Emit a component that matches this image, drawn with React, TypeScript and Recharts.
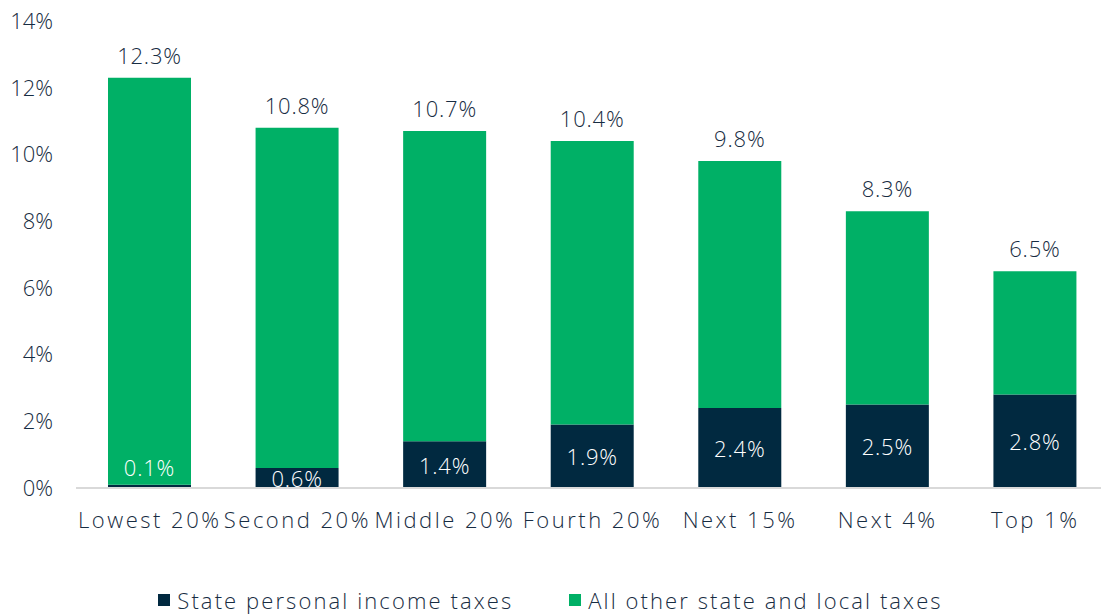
import React from 'react';
import { BarChart, Bar, XAxis, YAxis, Legend, LabelList } from 'recharts';

const GROUPS = ['Lowest 20%', 'Second 20%', 'Middle 20%', 'Fourth 20%', 'Next 15%', 'Next 4%', 'Top 1%'];
const INCOME_TAX = [0.1, 0.6, 1.4, 1.9, 2.4, 2.5, 2.8];
const OTHER_TAX = [12.2, 10.2, 9.3, 8.5, 7.4, 5.8, 3.7];
const TOTALS = [12.3, 10.8, 10.7, 10.4, 9.8, 8.3, 6.5];
const Y_TICKS = [0, 2, 4, 6, 8, 10, 12, 14];
const SERIES_ORDER = ['State personal income taxes', 'All other state and local taxes'];

const NAVY = '#012940';
const GREEN = '#00b066';
const TEXT = '#172c42';
const FONT = '"Open Sans", sans-serif';
const WEIGHT = 300;

const data = GROUPS.map((g, i) => ({
  group: g,
  income: INCOME_TAX[i],
  other: OTHER_TAX[i],
  total: TOTALS[i],
}));

function IncomeLabel(props: any) {
  const { x, y, width, height, value } = props;
  // tiny segments get their label lifted above the bar, like the original
  const cy = height < 10 ? y - 18 : y + height / 2;
  return (
    <text
      x={x + width / 2}
      y={cy}
      textAnchor="middle"
      dominantBaseline="central"
      fill="#ffffff"
      fontSize={22}
      fontWeight={WEIGHT}
      fontFamily={FONT}
      letterSpacing={0.8}
    >
      {value.toFixed(1)}%
    </text>
  );
}

function TotalLabel(props: any) {
  const { x, y, width, index } = props;
  return (
    <text
      x={x + width / 2}
      y={y - 14}
      textAnchor="middle"
      fill={TEXT}
      fontSize={22}
      fontWeight={WEIGHT}
      fontFamily={FONT}
      letterSpacing={0.8}
    >
      {TOTALS[index].toFixed(1)}%
    </text>
  );
}

function LegendContent(props: any) {
  const items = [...(props.payload || [])].sort(
    (a: any, b: any) => SERIES_ORDER.indexOf(a.value) - SERIES_ORDER.indexOf(b.value)
  );
  return (
    <div style={{ display: 'flex', justifyContent: 'center', height: 32, alignItems: 'center', paddingRight: 8 }}>
      {items.map((p: any, i: number) => (
        <div key={p.value} style={{ display: 'flex', alignItems: 'center', marginLeft: i === 0 ? 0 : 56 }}>
          <span style={{ width: 12, height: 12, background: p.color, display: 'inline-block', marginRight: 7 }} />
          <span style={{ fontFamily: FONT, fontSize: 22, fontWeight: WEIGHT, color: TEXT, letterSpacing: 2.1 }}>
            {p.value}
          </span>
        </div>
      ))}
    </div>
  );
}

export default function App() {
  return (
    <div style={{ position: 'absolute', left: 0, top: 0, width: 1101, height: 616, overflow: 'hidden', background: '#fff' }}>
      <BarChart
        width={1115}
        height={616}
        data={data}
        margin={{ top: 21, right: 6, bottom: 0, left: 0 }}
        barSize={83}
      >
        <XAxis
          dataKey="group"
          height={96}
          tickLine={false}
          axisLine={{ stroke: '#d9d9d9', strokeWidth: 2 }}
          interval={0}
          tickMargin={18}
          tick={{ fill: TEXT, fontSize: 22, fontWeight: WEIGHT, fontFamily: FONT, letterSpacing: 2.5 }}
        />
        <YAxis
          width={76}
          domain={[0, 14]}
          ticks={Y_TICKS}
          tickFormatter={(v) => `${v}%`}
          axisLine={false}
          tickLine={false}
          tickSize={0}
          tickMargin={23}
          tick={{ fill: TEXT, fontSize: 22, fontWeight: WEIGHT, fontFamily: FONT }}
        />
        <Legend verticalAlign="bottom" content={<LegendContent />} />
        <Bar dataKey="income" name="State personal income taxes" stackId="a" fill={NAVY} isAnimationActive={false}>
          <LabelList dataKey="income" content={<IncomeLabel />} />
        </Bar>
        <Bar dataKey="other" name="All other state and local taxes" stackId="a" fill={GREEN} isAnimationActive={false}>
          <LabelList dataKey="total" content={<TotalLabel />} />
        </Bar>
      </BarChart>
    </div>
  );
}
